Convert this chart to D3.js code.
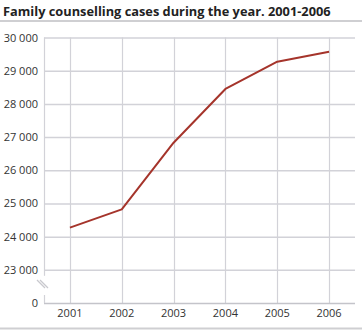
<!DOCTYPE html>
<html>
<head>
<meta charset="utf-8">
<script src="https://cdn.jsdelivr.net/npm/d3@7"></script>
<style>
html,body{margin:0;padding:0;background:#fff;}
svg{display:block;}
text{font-family:"Open Sans",sans-serif;}
</style>
</head>
<body>
<script>
const title = "Family counselling cases during the year. 2001-2006";
const years = ["2001","2002","2003","2004","2005","2006"];
const cases = [24270, 24820, 26830, 28450, 29270, 29570];
const yTicks = [23000, 24000, 25000, 26000, 27000, 28000, 29000, 30000];
const breakValue = 22000; // shown as "0" below the axis break

const W = 362, H = 330;
const m = {left: 44, right: 7, top: 37.5, bottom: 27};
const svg = d3.select("body").append("svg").attr("width", W).attr("height", H);

svg.append("text").attr("x", 3).attr("y", 15.5)
  .attr("font-size", 12.8).attr("font-weight", "bold").attr("fill", "#222")
  .text(title);
svg.append("rect").attr("x", 0).attr("y", 20).attr("width", W).attr("height", 2).attr("fill", "#cfcfd2");
svg.append("rect").attr("x", 0).attr("y", 327.5).attr("width", W).attr("height", 2).attr("fill", "#cfcfd2");

const x = d3.scaleBand().domain(years).range([m.left, W - m.right]);
const y = d3.scaleLinear().domain([breakValue, 30000]).range([H - m.bottom, m.top]);

const grid = "#d2d2d8";
// horizontal gridlines
svg.append("g").selectAll("line").data(yTicks).join("line")
  .attr("x1", m.left).attr("x2", W - m.right)
  .attr("y1", d => y(d) + 0.5).attr("y2", d => y(d) + 0.5)
  .attr("stroke", grid).attr("stroke-width", 1.5);
// vertical gridlines
svg.append("g").selectAll("line").data(years).join("line")
  .attr("x1", d => Math.round(x(d) + x.bandwidth() / 2) + 0.5)
  .attr("x2", d => Math.round(x(d) + x.bandwidth() / 2) + 0.5)
  .attr("y1", y(30000)).attr("y2", y(breakValue))
  .attr("stroke", grid).attr("stroke-width", 1.2);
// bottom axis line
svg.append("line").attr("x1", m.left).attr("x2", W - m.right)
  .attr("y1", y(breakValue) + 0.5).attr("y2", y(breakValue) + 0.5)
  .attr("stroke", "#c4c4ca").attr("stroke-width", 1.5);
// left axis with break
const ax = m.left + 0.5;
svg.append("line").attr("x1", ax).attr("x2", ax).attr("y1", y(30000)).attr("y2", y(23000) + 6)
  .attr("stroke", grid).attr("stroke-width", 1.2);
svg.append("line").attr("x1", ax).attr("x2", ax).attr("y1", y(breakValue) - 8).attr("y2", y(breakValue))
  .attr("stroke", grid).attr("stroke-width", 1.2);
[0, 3].forEach(o => {
  svg.append("line").attr("x1", 37 + o).attr("y1", 280).attr("x2", 45 + o).attr("y2", 288)
    .attr("stroke", "#c8c8ce").attr("stroke-width", 1.2);
});

// y labels
const fmt = v => d3.format(",")(v).replace(/,/g, " ");
svg.append("g").selectAll("text").data(yTicks).join("text")
  .attr("x", 38).attr("y", d => y(d) + 4)
  .attr("text-anchor", "end").attr("font-size", 11).attr("fill", "#333")
  .text(d => fmt(d));
svg.append("text").attr("x", 38).attr("y", y(breakValue) + 4)
  .attr("text-anchor", "end").attr("font-size", 11).attr("fill", "#333").text("0");

// x labels
svg.append("g").selectAll("text").data(years).join("text")
  .attr("x", d => x(d) + x.bandwidth() / 2).attr("y", 317)
  .attr("text-anchor", "middle").attr("font-size", 11).attr("fill", "#333")
  .text(d => d);

// line
const line = d3.line().x((d, i) => x(years[i]) + x.bandwidth() / 2).y(d => y(d));
svg.append("path").datum(cases).attr("d", line)
  .attr("fill", "none").attr("stroke", "#a5342b").attr("stroke-width", 2).attr("stroke-linejoin", "round");
</script>
</body>
</html>
